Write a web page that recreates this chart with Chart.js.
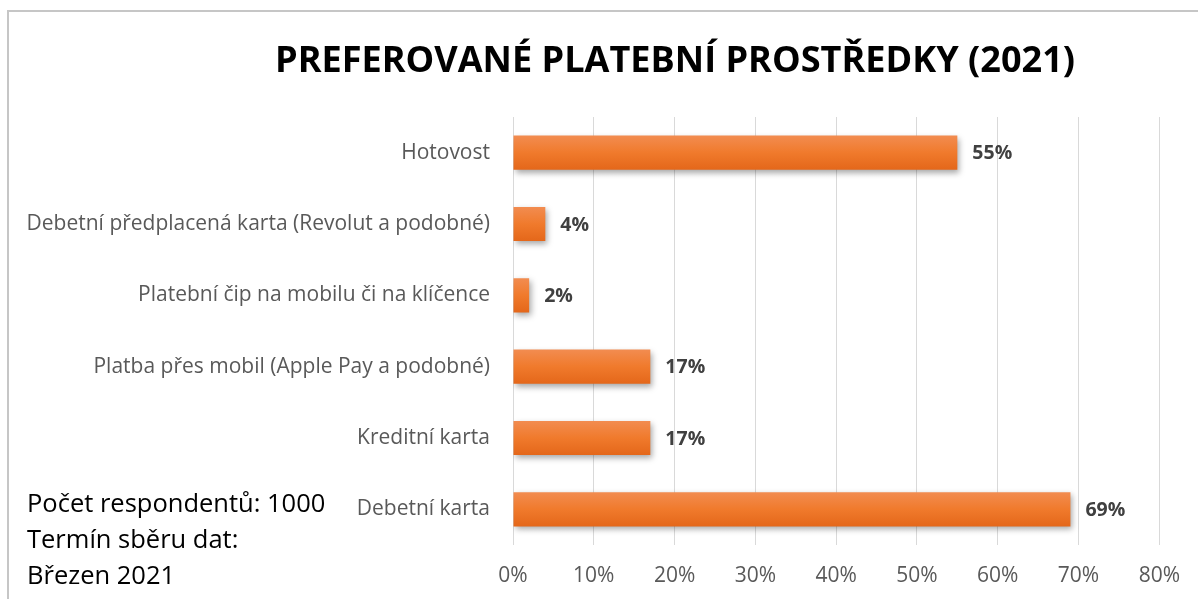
<!DOCTYPE html>
<html>
<head>
<meta charset="utf-8">
<script src="https://cdn.jsdelivr.net/npm/chart.js@4.4.1/dist/chart.umd.min.js"></script>
<style>
  html, body { margin: 0; padding: 0; background: #ffffff; }
  #wrap { position: relative; width: 1198px; height: 599px; }
</style>
</head>
<body>
<div id="wrap"><canvas id="c" width="1198" height="599"></canvas></div>
<script>
const chartTitle = "PREFEROVANÉ PLATEBNÍ PROSTŘEDKY (2021)";
const categories = [
  "Hotovost",
  "Debetní předplacená karta (Revolut a podobné)",
  "Platební čip na mobilu či na klíčence",
  "Platba přes mobil (Apple Pay a podobné)",
  "Kreditní karta",
  "Debetní karta"
];
const values = [55, 4, 2, 17, 17, 69];
const axisMin = 0;
const axisMax = 80;
const axisStep = 10;
const noteLines = ["Počet respondentů: 1000", "Termín sběru dat:", "Březen 2021"];

const FONT = "'Open Sans', 'Noto Sans', sans-serif";

const framePlugin = {
  id: 'frame',
  beforeDraw(chart) {
    const ctx = chart.ctx;
    ctx.save();
    ctx.fillStyle = '#ffffff';
    ctx.fillRect(0, 0, chart.width, chart.height);
    ctx.strokeStyle = '#c6c6c6';
    ctx.lineWidth = 2;
    ctx.strokeRect(8, 11, 1400, 800);
    ctx.restore();
  },
  afterDraw(chart) {
    const ctx = chart.ctx;
    ctx.save();
    ctx.font = "bold 35px " + FONT;
    ctx.fillStyle = '#000000';
    ctx.textAlign = 'center';
    ctx.textBaseline = 'alphabetic';
    const tw = ctx.measureText(chartTitle).width;
    const target = 800;
    ctx.translate(675, 72);
    ctx.scale(target / tw, 1);
    ctx.fillText(chartTitle, 0, 0);
    ctx.restore();
    ctx.save();
    ctx.font = "25.5px " + FONT;
    ctx.fillStyle = '#000000';
    ctx.textAlign = 'left';
    ctx.textBaseline = 'alphabetic';
    noteLines.forEach((t, i) => ctx.fillText(t, 27, 512 + i * 36));
    ctx.restore();
  }
};

const shadowPlugin = {
  id: 'barShadow',
  beforeDatasetsDraw(chart) {
    const ctx = chart.ctx;
    ctx.save();
    ctx.shadowColor = 'rgba(0,0,0,0.35)';
    ctx.shadowBlur = 6;
    ctx.shadowOffsetX = 2;
    ctx.shadowOffsetY = 3;
  },
  afterDatasetsDraw(chart) {
    chart.ctx.restore();
    const ctx = chart.ctx;
    const meta = chart.getDatasetMeta(0);
    ctx.save();
    ctx.font = "bold 19.5px " + FONT;
    ctx.fillStyle = '#404040';
    ctx.textAlign = 'left';
    ctx.textBaseline = 'middle';
    meta.data.forEach((bar, i) => {
      ctx.fillText(values[i] + '%', bar.x + 15, bar.y + 1);
    });
    ctx.restore();
  }
};

function barGradient(context) {
  const chart = context.chart;
  const ys = chart.scales && chart.scales.y;
  if (!chart.chartArea || !ys) return '#ef7a30';
  const cy = ys.getPixelForValue(context.dataIndex);
  if (!isFinite(cy)) return '#ef7a30';
  const h = 17;
  const g = chart.ctx.createLinearGradient(0, cy - h, 0, cy + h);
  g.addColorStop(0, '#f28c50');
  g.addColorStop(0.5, '#f07a2c');
  g.addColorStop(1, '#e4671a');
  return g;
}

new Chart(document.getElementById('c'), {
  type: 'bar',
  data: {
    labels: categories,
    datasets: [{
      data: values,
      backgroundColor: barGradient,
      borderWidth: 0,
      categoryPercentage: 1,
      barPercentage: 0.48
    }]
  },
  plugins: [framePlugin, shadowPlugin],
  options: {
    indexAxis: 'y',
    responsive: false,
    animation: false,
    layout: { padding: { top: 117, right: 37, bottom: 0, left: 0 } },
    plugins: { legend: { display: false }, title: { display: false }, tooltip: { enabled: false } },
    scales: {
      x: {
        min: axisMin, max: axisMax,
        ticks: {
          stepSize: axisStep,
          callback: v => v + '%',
          color: '#595959',
          font: { family: FONT, size: 21 },
          padding: 18
        },
        grid: { color: '#d9d9d9', lineWidth: 1, drawTicks: false },
        border: { display: false },
        afterFit(scale) { scale.height = 54; }
      },
      y: {
        ticks: {
          color: '#595959',
          font: { family: FONT, size: 21 },
          padding: 23
        },
        grid: { display: false, drawTicks: false },
        border: { display: false },
        afterFit(scale) { scale.width = 513; }
      }
    }
  }
});
</script>
</body>
</html>
